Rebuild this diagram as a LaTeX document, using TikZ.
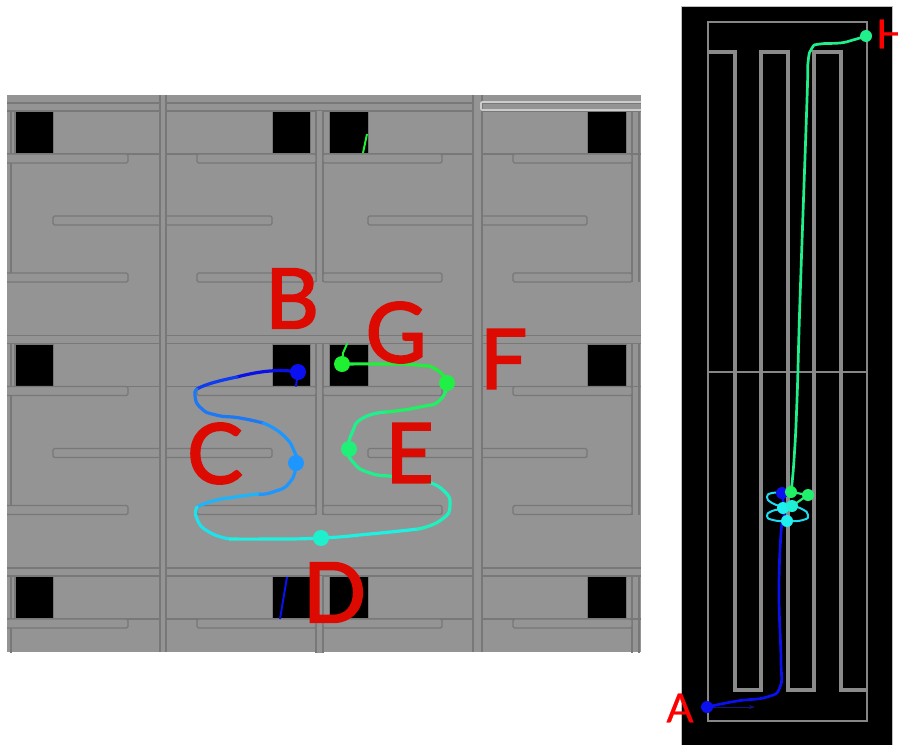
\documentclass[tikz,border=0pt]{standalone}
\usepackage{fontspec}
\setmainfont[FakeBold=0.8]{Lato}
\newfontfamily\biglabfont[FakeBold=2.4]{Lato}
\usetikzlibrary{arrows.meta}
\definecolor{panel}{HTML}{949494}
\definecolor{wall}{HTML}{787878}
\definecolor{lab}{HTML}{DC0A00}
\tikzset{
  x=1pt,y=-1pt,
  wallline/.style={draw=wall,line width=1.4pt},
  slot/.style={draw=wall,line width=1.4pt,rounded corners=1.5pt,fill=panel},
  hole/.style={fill=black,draw=wall,line width=.6pt},
  trace/.style={line width=3.2pt,line cap=round,line join=round},
  thintrace/.style={line width=2.7pt,line cap=round,line join=round},
  ldot/.style={circle,inner sep=0pt,minimum size=16pt},
  rdot/.style={circle,inner sep=0pt,minimum size=12pt},
  biglab/.style={text=lab,inner sep=0pt,font=\biglabfont\fontsize{83}{83}\selectfont},
  smalllab/.style={text=red,inner sep=0pt,font=\fontsize{40}{40}\selectfont},
  serp/.style={draw=gray!92,line width=3.2pt,line join=miter},
  frame/.style={draw=gray!95,line width=1.2pt}
}
\begin{document}
\begin{tikzpicture}
\clip (0,0) rectangle (898,745);
\fill[white] (0,0) rectangle (898,745);
% ---------- left panel ----------
\begin{scope}
\clip (7,95) rectangle (641,652);
\fill[panel] (7,95) rectangle (641,652);
\foreach \dy in {0,232.5,465}{
  \begin{scope}[yshift=-\dy pt]
    \draw[wallline] (7,103) -- (641,103);
    \draw[wallline] (7,111) -- (641,111);
    \draw[wallline] (7,154) -- (641,154);
    \draw[wallline] (11,111) -- (11,282) (15,111) -- (15,154);
    \draw[wallline] (632,111) -- (632,282) (639,111) -- (639,282);
    \fill[panel] (316,111) rectangle (323,282);
    \draw[wallline] (316,111) -- (316,282) (323,111) -- (323,282);
    \foreach \a/\b in {15/53,272/310,329/368,587/626}
      \draw[hole] (\a,111.5) rectangle (\b,153.5);
    \foreach \a/\b in {4/128,197/316,323/442,513/632}{
      \draw[slot] (\a,154) rectangle (\b,163);
      \draw[slot] (\a,273) rectangle (\b,282);
    }
    \draw[slot] (53,216) rectangle (272,225);
    \draw[slot] (368,216) rectangle (587,225);
  \end{scope}
}
\foreach \a/\b in {160/166,473/482}{
  \fill[panel] (\a,95) rectangle (\b,652);
  \draw[wallline] (\a,95) -- (\a,652) (\b,95) -- (\b,652);
}
\draw[draw=gray!40!white,line width=1.6pt,rounded corners=1pt] (481,102) rectangle (660,110);
\end{scope}
% named way-points, left
\coordinate (pB) at (298,372);
\coordinate (pC) at (296,463);
\coordinate (pD) at (321,538);
\coordinate (pE) at (349,449);
\coordinate (pF) at (447,383);
\coordinate (pG) at (342,364);
% left traces
\draw[trace,color={rgb,255:red,10;green,16;blue,230}] plot[smooth,tension=1] coordinates {(pB) (270,371) (237,377)};
\draw[trace,color={rgb,255:red,16;green,60;blue,240}] plot[smooth,tension=1] coordinates {(237,377) (212,383) (197,389)};
\draw[trace,color={rgb,255:red,28;green,120;blue,245}] plot[smooth,tension=1] coordinates {(197,389) (195,396) (201,408) (216,415) (240,418) (263,423)};
\draw[trace,color={rgb,255:red,30;green,150;blue,255}] plot[smooth,tension=1] coordinates {(263,423) (283,435) (295,453) (pC) (290,482) (273,492) (258,494)};
\draw[trace,color={rgb,255:red,30;green,180;blue,250}] plot[smooth,tension=1] coordinates {(258,494) (235,497) (213,501) (197,507)};
\draw[trace,color={rgb,255:red,30;green,225;blue,235}] plot[smooth,tension=1] coordinates {(197,507) (197,519) (209,532) (230,539)};
\draw[trace,color={rgb,255:red,30;green,240;blue,225}] plot[smooth,tension=1] coordinates {(230,539) (270,539) (pD) (370,534) (418,529)};
\draw[trace,color={rgb,255:red,30;green,240;blue,190}] plot[smooth,tension=1] coordinates {(418,529) (441,520) (450,505) (443,490) (427,482)};
\draw[trace,color={rgb,255:red,32;green,240;blue,140}] plot[smooth,tension=1] coordinates {(427,482) (397,477) (370,473) (353,462) (pE) (352,433) (363,418) (387,412)};
\draw[trace,color={rgb,255:red,32;green,240;blue,100}] plot[smooth,tension=1] coordinates {(387,412) (420,407) (440,400) (pF)};
\draw[trace,color={rgb,255:red,32;green,240;blue,60}] plot[smooth,tension=1] coordinates {(pF) (437,370) (417,365) (380,364) (pG)};
\coordinate (g1) at (347,344);
\draw[trace,line width=2pt,color={rgb,255:red,32;green,240;blue,50}] (pG) -- (343,353) -- (g1);
\coordinate (b1) at (296,386);
\draw[trace,line width=2pt,color={rgb,255:red,10;green,16;blue,230}] (pB) -- (b1);
\coordinate (f1) at (363,153);
\coordinate (f2) at (367,134);
\draw[line width=2pt,color={rgb,255:red,32;green,240;blue,50}] (f1) -- (f2);
\coordinate (h1) at (280,619);
\coordinate (h2) at (287,577);
\draw[line width=2pt,color={rgb,255:red,10;green,16;blue,240}] (h1) -- (h2);
\node[ldot,fill={rgb,255:red,10;green,16;blue,240}] (dB) at (pB) {};
\node[ldot,fill={rgb,255:red,30;green,150;blue,255}] (dC) at (pC) {};
\node[ldot,fill={rgb,255:red,30;green,240;blue,205}] (dD) at (pD) {};
\node[ldot,fill={rgb,255:red,32;green,240;blue,120}] (dE) at (pE) {};
\node[ldot,fill={rgb,255:red,32;green,240;blue,70}] (dF) at (pF) {};
\node[ldot,fill={rgb,255:red,32;green,240;blue,50}] (dG) at (pG) {};
% left labels
\node[biglab] (lB) at (292,298.5) {B};
\node[biglab] (lC) at (215,453.5) {C};
\node[biglab] (lD) at (334.5,592.5) {D};
\node[biglab] (lE) at (409.5,453) {E};
\node[biglab] (lF) at (503.5,359) {F};
\node[biglab] (lG) at (396,332.5) {G};
% ---------- right panel ----------
\draw[fill=black,draw=gray!50!white,line width=.7pt] (681,6) rectangle (892,760);
\draw[frame] (708,22) rectangle (867,721);
\draw[frame] (708,372) -- (867,372);
\draw[serp] (708,52) -| (735,690) -| (761,52) -| (788,690) -| (814,52) -| (841,690) -- (867,690);
% named way-points, right
\coordinate (rA) at (707,707);
\coordinate (rB) at (782,493);
\coordinate (rC) at (783,508);
\coordinate (rD) at (787,521);
\coordinate (rE) at (792,506);
\coordinate (rF) at (808,495);
\coordinate (rG) at (791,492);
\coordinate (rH) at (866,36);
\coordinate (rA2) at (755,707);
\draw[-{Stealth[length=6pt,width=4pt,open]},line width=.7pt,color={rgb,255:red,20;green,20;blue,130}] (rA) -- (rA2);
\draw[thintrace,color={rgb,255:red,10;green,16;blue,240}] plot[smooth,tension=.8] coordinates {(rA) (737,701) (767,697) (780,687) (781,660) (779,593) (781,533) (784,515) (rB)};
\draw[thintrace,line width=2pt,color={rgb,255:red,30;green,220;blue,240}] plot[smooth,tension=1] coordinates {(rB) (772,493) (767,497) (772,503) (rC) (772,511) (767,516) (773,520) (rD) (803,520) (808,515) (802,509) (rE)};
\draw[thintrace,line width=2.2pt,color={rgb,255:red,32;green,240;blue,120}] (rE) -- (rF) -- (rG);
\draw[thintrace,color={rgb,255:red,32;green,240;blue,140}] plot[smooth,tension=.8] coordinates {(rG) (794,460) (797,400) (800,300) (807,100) (808,63) (812,48) (820,44) (840,43) (853,40) (rH)};
\node[rdot,fill={rgb,255:red,10;green,16;blue,240}] (nA) at (rA) {};
\node[rdot,fill={rgb,255:red,10;green,16;blue,240}] (nB) at (rB) {};
\node[rdot,fill={rgb,255:red,30;green,240;blue,240}] (nC) at (rC) {};
\node[rdot,fill={rgb,255:red,30;green,240;blue,240}] (nD) at (rD) {};
\node[rdot,fill={rgb,255:red,30;green,240;blue,215}] (nE) at (rE) {};
\node[rdot,fill={rgb,255:red,32;green,240;blue,110}] (nF) at (rF) {};
\node[rdot,fill={rgb,255:red,32;green,240;blue,100}] (nG) at (rG) {};
\node[rdot,fill={rgb,255:red,32;green,240;blue,140}] (nH) at (rH) {};
\node[smalllab] (lA) at (680,708) {A};
\node[smalllab,anchor=west,xshift=-3pt] (lH) at (879,34) {H};
\end{tikzpicture}
\end{document}
